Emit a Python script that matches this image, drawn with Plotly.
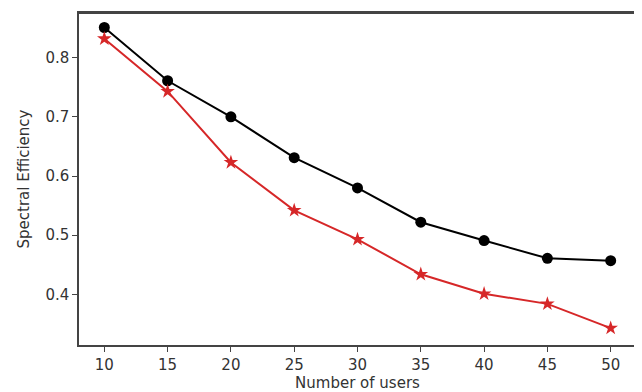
import plotly.graph_objects as go

users = [10, 15, 20, 25, 30, 35, 40, 45, 50]
se_black = [0.851, 0.761, 0.700, 0.631, 0.580, 0.522, 0.491, 0.461, 0.457]
se_red = [0.832, 0.743, 0.623, 0.542, 0.493, 0.434, 0.401, 0.384, 0.343]
x_ticks = [10, 15, 20, 25, 30, 35, 40, 45, 50]
y_ticks = [0.4, 0.5, 0.6, 0.7, 0.8]

fig = go.Figure()
fig.add_trace(go.Scatter(x=users, y=se_black, mode="lines+markers",
                         line=dict(color="black", width=2),
                         marker=dict(symbol="circle", size=11, color="black"),
                         showlegend=False, cliponaxis=False))
fig.add_trace(go.Scatter(x=users, y=se_red, mode="lines+markers",
                         line=dict(color="#d62728", width=2),
                         marker=dict(symbol="star", size=11, color="#d62728"),
                         showlegend=False, cliponaxis=False))

axis_common = dict(showline=True, linecolor="#444", linewidth=1.5, mirror=True,
                   ticks="outside", ticklen=5, tickwidth=1.2, tickcolor="#444",
                   showgrid=False, zeroline=False, automargin=False,
                   tickfont=dict(family="DejaVu Sans", size=15, color="#333"))

fig.update_xaxes(range=[8, 52], tickvals=x_ticks,
                 title=dict(text="Number of users", standoff=5,
                            font=dict(family="DejaVu Sans", size=15, color="#333")),
                 **axis_common)
fig.update_yaxes(range=[0.3145, 0.8755], tickvals=y_ticks, tickformat=".1f",
                 title=dict(text="Spectral Efficiency", standoff=12,
                            font=dict(family="DejaVu Sans", size=15, color="#333")),
                 **axis_common)

# frame top and right edges explicitly
fig.add_shape(type="line", xref="paper", yref="paper", x0=0, y0=1, x1=1, y1=1,
              line=dict(color="#444", width=2), layer="above")
fig.add_shape(type="line", xref="paper", yref="paper", x0=1, y0=0, x1=1, y1=1,
              line=dict(color="#444", width=2), layer="above")

fig.update_layout(width=634, height=384, plot_bgcolor="white", paper_bgcolor="white",
                  margin=dict(l=71, r=6, t=5, b=47, autoexpand=False))
fig.write_html("out.html")
